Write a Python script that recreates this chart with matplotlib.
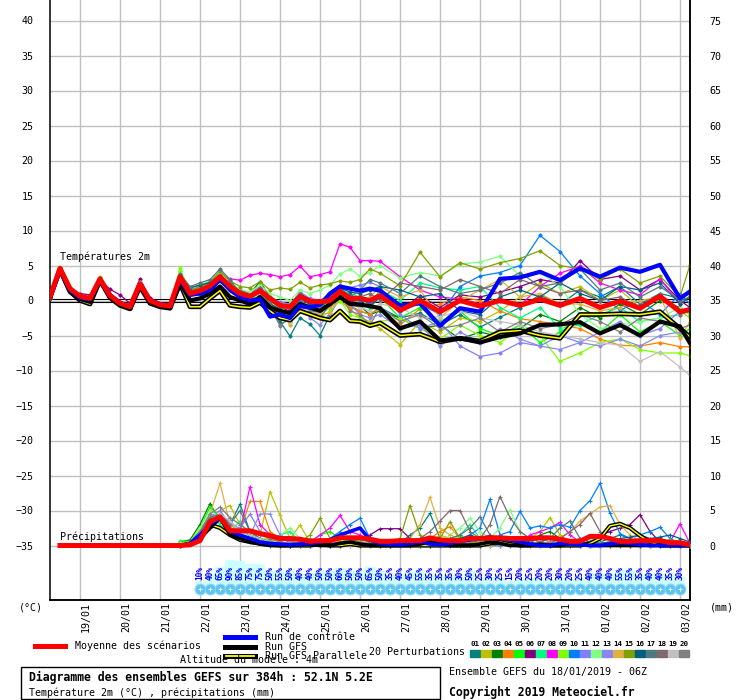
import matplotlib
matplotlib.use("Agg")
import matplotlib.pyplot as plt
from matplotlib.lines import Line2D
from matplotlib.patches import Rectangle
from matplotlib.transforms import ScaledTranslation

plt.rcParams["font.family"] = ["DejaVu Sans Mono", "DejaVu Sans"]

W, H = 740, 700

# forecast hours counted from 18/01/2019 06Z
temp_hours = list(range(0, 193, 6)) + list(range(198, 384, 12)) + [384]
precip_hours = list(range(78, 385, 6))
mean_precip_hours = list(range(6, 385, 6))
prob_hours = list(range(90, 379, 6))

day_hours = list(range(18, 384, 24))
day_labels = ["19/01", "20/01", "21/01", "22/01", "23/01", "24/01", "25/01", "26/01",
              "27/01", "28/01", "29/01", "30/01", "31/01", "01/02", "02/02", "03/02"]

member_names = ["%02d" % i for i in range(1, 21)]
member_colors = ["#008080", "#c0c000", "#008000", "#ff8000", "#00ff00", "#800080", "#00ff80",
                 "#ff00ff", "#80ff00", "#0080ff", "#8080ff", "#80ff80", "#8888ee", "#e0b040",
                 "#80a000", "#006080", "#507880", "#806870", "#c0c0c0", "#808080"]

# 2m temperature (deg C)
mean_temp = [0.5, 4.6, 1.7, 0.6, 0.3, 3.1, 0.7, -0.4, -0.9, 2.4, 0.0, -0.6, -0.8, 3.4, 1.0, 1.4, 2.1,
             3.4, 2.0, 1.0, 0.6, 1.4, 0.3, -0.7, -0.9, 0.6, -0.1, -0.2, 0.0, 1.3, 0.3, 0.3, 0.0, 0.7,
             -1.4, 0.0, -1.6, 0.0, -0.8, 0.0, -0.7, 0.2, -0.7, 0.3, -1.0, -0.1, -1.1, 0.6, -1.6, -1.3]
ctrl_temp = [0.6, 4.4, 1.5, 0.4, 0.2, 3.0, 0.8, -0.3, -0.9, 2.3, 0.1, -0.5, -0.7, 3.0, 0.8, 1.0, 1.5,
             3.0, 1.5, 0.5, 0.0, 0.2, -2.3, -2.0, -2.5, -0.8, -1.0, -0.6, 1.0, 2.0, 1.7, 1.4, 1.7, 1.4,
             -0.7, -0.4, -3.6, -1.1, -1.6, 3.1, 3.3, 4.1, 2.9, 4.6, 3.4, 4.7, 4.1, 5.1, 0.3, 1.3]
gfs_temp = [0.4, 4.3, 1.2, 0.2, -0.2, 2.8, 0.5, -0.6, -1.1, 2.2, -0.2, -0.8, -1.0, 2.6, 0.0, 0.3, 1.0,
            2.0, 0.5, 0.0, -0.5, 0.5, -1.0, -1.5, -1.8, -0.5, -1.0, -1.5, -0.5, 0.5, -0.5, -0.6, -0.8,
            -1.1, -4.0, -3.0, -5.7, -5.4, -6.0, -5.2, -4.7, -3.5, -3.4, -3.1, -4.7, -3.5, -5.0, -3.0,
            -3.7, -6.1]
para_temp = [0.4, 4.5, 1.3, 0.0, -0.5, 2.9, 0.4, -0.7, -1.2, 2.0, -0.4, -0.9, -1.1, 2.4, -0.9, -0.9,
             0.3, 1.4, -0.7, -0.9, -1.0, -0.3, -1.5, -2.5, -2.8, -1.5, -2.0, -2.5, -2.8, -1.5, -2.9,
             -3.0, -3.6, -3.2, -5.0, -4.8, -5.9, -5.4, -5.8, -4.5, -4.3, -5.0, -5.4, -2.0, -2.0, -1.9,
             -2.0, -1.6, -4.0, -5.2]
member_temps = [
    [0.6, 4.5, 1.6, 0.5, 0.1, 3.0, 0.6, -0.5, -1.0, 2.5, -0.1, -0.7, -0.9, 3.0, 1.2, 1.0, 1.8, 2.8,
     1.6, 0.4, -0.5, 0.8, -1.8, -3.0, -5.1, -2.5, -3.4, -5.0, -2.0, 0.5, -0.8, -1.5, -2.0, -1.0, -2.5,
     -1.8, -3.5, -2.0, -3.8, -2.4, -1.0, 0.8, -0.6, 1.5, 0.5, 2.0, -0.5, 1.0, 0.3, 1.0],
    [0.4, 4.7, 1.8, 0.7, 0.4, 3.3, 0.8, -0.3, -0.8, 2.5, 0.1, -0.5, -0.7, 3.3, 1.5, 1.9, 2.5, 3.8,
     2.6, 1.5, 0.9, 1.0, -0.5, -1.5, -3.5, -0.5, -1.5, -2.0, -1.0, 0.0, -1.2, -2.5, -3.0, -4.0, -6.3,
     -3.0, -4.5, -2.5, -3.0, -1.5, 0.5, 2.5, 1.0, 2.0, 0.0, 1.5, -1.0, 0.5, -1.5, -2.5],
    [0.5, 4.6, 1.7, 0.5, 0.2, 3.1, 0.7, -0.4, -0.9, 2.6, 0.0, -0.6, -0.8, 3.5, 1.8, 2.2, 2.6, 3.2,
     2.0, 1.5, 1.0, 2.7, 0.5, -0.5, -1.2, 1.0, 0.2, -0.8, 0.5, 1.6, 0.0, -0.8, -2.0, -1.5, -2.5,
     -4.0, -3.5, -5.5, -4.5, -5.2, -4.0, -2.0, -3.0, -1.0, -2.5, -0.5, -2.0, 0.0, -1.0, -2.0],
    [0.6, 4.4, 1.5, 0.6, 0.3, 3.0, 0.6, -0.5, -1.0, 2.3, 0.0, -0.6, -0.9, 3.2, 1.6, 2.0, 2.4, 3.0,
     1.8, 0.8, 0.6, 1.2, -1.8, -1.8, -1.8, -0.5, -1.0, -1.5, -0.5, 0.5, -1.0, -1.5, -2.0, -1.0, -3.5,
     -1.2, -0.5, 0.5, 0.0, -1.5, -2.6, -3.0, -3.5, -4.0, -5.5, -6.4, -6.5, -6.0, -6.6, -6.6],
    [0.7, 4.5, 1.6, 0.5, 0.3, 3.2, 0.7, -0.4, -0.9, 2.5, 0.1, -0.5, -0.7, 4.2, 1.2, 1.8, 2.8, 3.8,
     1.8, 0.6, 0.2, 1.6, -0.8, -1.5, -2.8, 0.2, -1.8, -1.2, -0.5, 2.0, 0.5, -0.5, -1.0, 0.5, -2.5,
     -1.0, -3.0, -1.5, -4.0, -5.0, -3.5, -6.0, -4.5, -3.0, -4.5, -2.0, -4.5, -3.0, -5.0, -4.0],
    [0.5, 4.5, 1.6, 1.0, 0.8, 3.0, 1.6, 0.8, -0.4, 3.1, 0.3, -0.5, -0.8, 3.3, 1.0, 1.5, 2.2, 3.3,
     2.0, 1.0, 0.5, 1.0, 0.0, -1.0, -1.5, 0.2, -0.5, -1.0, -0.5, 1.0, 0.0, -0.5, -0.8, 0.5, -1.5,
     0.7, -1.0, 0.8, 0.5, 1.2, 2.0, 3.0, 2.5, 5.7, 3.0, 3.5, 1.5, 3.0, 0.0, -1.0],
    [0.4, 4.3, 1.4, 0.4, 0.1, 2.9, 0.6, -0.5, -1.0, 2.3, -0.1, -0.7, -0.9, 3.6, 1.3, 1.6, 2.3, 3.6,
     2.2, 1.2, 0.4, 0.5, -1.2, -2.5, -3.0, -1.0, -2.2, -1.0, 0.0, 1.5, 1.0, 0.5, -0.5, 1.5, 0.0,
     2.5, 1.8, 1.5, 2.0, -1.0, -2.5, -1.0, -4.0, -3.5, -2.0, -1.0, -3.0, -2.5, -2.0, -1.5],
    [0.5, 4.7, 1.8, 0.6, 0.3, 3.1, 0.8, -0.3, -0.8, 2.5, 0.1, -0.5, -0.8, 3.5, 1.5, 2.0, 2.5, 3.7,
     3.1, 2.9, 3.6, 3.9, 3.7, 3.4, 3.7, 4.9, 3.4, 3.7, 4.1, 8.1, 7.6, 5.7, 5.7, 5.6, 3.4, 1.5, 0.5,
     0.2, -0.5, 0.0, -0.7, 2.0, 3.9, 4.9, 2.5, 1.5, 0.8, 3.1, -0.5, 0.6],
    [0.6, 4.6, 1.7, 0.5, 0.2, 3.0, 0.6, -0.5, -1.0, 2.4, -0.1, -0.6, -0.8, 4.6, 1.0, 1.2, 2.0, 3.0,
     1.5, 0.5, 0.0, 1.5, -0.5, -1.0, -2.0, 0.0, -1.0, -2.5, -1.5, 0.0, -2.0, -2.5, -3.5, -3.0, -2.5,
     -4.0, -5.5, -3.5, -5.0, -6.0, -4.0, -5.0, -8.7, -7.5, -6.0, -5.5, -7.0, -7.5, -7.5, -7.9],
    [0.4, 4.4, 1.5, 0.4, 0.1, 2.9, 0.6, -0.5, -1.0, 2.4, 0.0, -0.6, -0.8, 3.3, 1.0, 1.3, 2.0, 3.3,
     2.0, 1.2, 0.5, 1.0, -1.0, -2.0, -2.5, 0.0, -1.2, -0.5, 0.5, 1.5, 0.8, 0.0, -0.5, 0.5, -1.5,
     -0.5, -2.0, 2.0, 3.5, 4.0, 5.0, 9.3, 7.0, 3.5, 1.0, -1.4, 0.0, -2.0, 1.0, -0.5],
    [0.5, 4.6, 1.6, 0.5, 0.2, 3.0, 0.7, -0.4, -0.9, 2.4, 0.0, -0.6, -0.8, 3.4, 1.2, 1.5, 2.2, 3.5,
     2.2, 1.4, 1.0, 2.0, 0.5, -0.2, -0.5, 1.2, 0.3, 0.0, 0.8, 2.2, 1.8, 2.2, 2.6, 2.0, -2.0, -4.0,
     -3.0, -6.5, -8.0, -7.5, -6.0, -6.5, -5.0, -6.0, -4.5, -3.0, -5.0, -4.0, -1.5, -1.0],
    [0.6, 4.8, 1.8, 0.6, 0.3, 3.2, 0.8, -0.3, -0.8, 2.6, 0.1, -0.5, -0.7, 4.0, 1.6, 2.2, 2.8, 4.0,
     2.5, 1.6, 1.2, 2.2, 1.0, 0.5, 0.0, 1.5, 1.0, 1.5, 2.2, 3.8, 4.5, 3.5, 4.0, 5.0, 3.2, 4.0, 3.5,
     5.2, 5.5, 6.3, 3.5, 4.0, 2.0, -2.0, -4.0, -3.5, -3.0, -2.5, -1.0, -2.0],
    [0.4, 4.5, 1.6, 0.5, 0.2, 3.0, 0.6, -0.5, -1.0, 2.3, -0.1, -0.7, -0.9, 3.2, 0.8, 1.2, 1.8, 3.0,
     1.6, 0.6, 0.2, 1.2, -1.5, -2.5, -3.0, -0.5, -2.5, -3.5, -1.8, 0.5, -0.5, -2.0, -2.5, -2.0, -4.0,
     -3.5, -6.5, -4.5, -6.0, -4.0, -5.5, -6.5, -7.0, -6.0, -6.5, -5.5, -6.5, -5.0, -4.5, -5.5],
    [0.5, 4.4, 1.5, 0.3, 0.0, 2.8, 0.5, -0.6, -1.1, 2.2, -0.2, -0.8, -1.0, 3.0, 1.2, 1.6, 2.0, 3.0,
     1.5, 0.8, 0.3, 1.0, 0.0, -1.0, -3.5, -0.8, -1.5, -2.0, -1.8, 0.5, -0.5, -1.0, 0.5, 2.0, 0.5,
     1.5, -2.5, 0.0, 1.5, 3.0, 0.5, 1.0, -0.5, -0.5, -1.5, -1.0, 0.0, 0.5, -5.4, -3.0],
    [0.5, 4.6, 1.7, 0.6, 0.3, 3.1, 0.7, -0.4, -0.9, 2.5, 0.1, -0.5, -0.7, 3.4, 1.4, 1.9, 2.6, 4.2,
     2.8, 2.0, 1.8, 2.7, 1.5, 1.8, 1.6, 2.6, 1.8, 2.2, 2.4, 2.8, 2.6, 3.0, 4.5, 3.9, 2.1, 6.9, 3.4,
     5.4, 4.5, 5.4, 6.0, 7.1, 5.0, 4.5, 3.0, 4.5, 2.5, 3.5, 0.5, 5.1],
    [0.6, 4.5, 1.6, 0.5, 0.2, 3.0, 0.7, -0.4, -0.9, 2.4, 0.0, -0.6, -0.8, 3.6, 1.8, 2.2, 2.6, 3.5,
     2.2, 1.2, 0.8, 1.5, -0.5, -1.2, -2.2, 0.5, -0.5, -1.0, 0.2, 1.8, 1.2, 1.0, 1.5, 2.0, 1.5, 0.5,
     1.0, -1.5, -2.0, 0.5, 1.5, 0.5, 2.5, 1.0, 0.0, 2.0, 1.5, 2.5, -0.5, 0.5],
    [0.5, 4.6, 1.6, 0.5, 0.2, 3.1, 0.6, -0.5, -1.0, 2.4, 0.0, -0.7, -0.9, 3.8, 2.0, 2.5, 3.0, 4.5,
     3.0, 1.0, 0.0, 1.8, -0.5, -3.5, -2.5, 1.0, -1.0, -2.5, -0.5, 1.0, 0.5, 1.5, 3.0, 2.5, 1.0, 3.5,
     2.0, 1.0, 1.5, 2.5, 4.0, 2.0, 2.5, 4.5, 1.5, 2.5, 0.5, 2.0, 0.0, 0.5],
    [0.4, 4.4, 1.5, 0.4, 0.1, 2.9, 0.6, -0.5, -1.0, 2.3, -0.1, -0.7, -0.9, 3.2, 1.0, 1.4, 2.0, 3.6,
     2.4, 1.4, 0.8, 1.8, 0.2, -0.5, -1.0, 0.8, 0.0, -0.5, 0.5, 1.5, 0.5, 0.5, 1.0, 0.0, 2.5, 2.0,
     1.5, 3.0, 2.0, 1.0, 3.0, 2.0, 1.0, 1.5, 0.0, 0.5, -1.0, 1.0, -2.0, -1.5],
    [0.6, 4.7, 1.7, 0.6, 0.3, 3.1, 0.7, -0.4, -0.9, 2.5, 0.0, -0.6, -0.8, 3.3, 1.2, 1.5, 2.1, 3.3,
     1.8, 0.8, 0.4, 1.0, -1.0, -1.8, -3.0, -1.0, -2.0, -1.5, -0.5, 0.8, -0.5, -1.0, -1.5, -0.5, -1.0,
     -2.5, -2.3, -1.5, -2.5, -3.0, -3.5, -4.5, -5.0, -5.5, -6.0, -6.4, -8.7, -7.3, -9.5, -10.7],
    [0.5, 4.5, 1.6, 0.5, 0.2, 3.0, 0.6, -0.5, -1.0, 2.4, 0.0, -0.6, -0.8, 3.1, 0.8, 1.2, 1.6, 3.3,
     1.8, 0.8, 0.3, 1.2, -1.0, -3.6, -2.5, 0.5, -1.5, -1.0, -0.5, 0.8, -1.5, -2.0, -3.5, -1.0, -3.0,
     -2.0, -4.0, -3.5, -2.5, -4.5, -3.0, -4.0, -3.5, -2.0, -3.0, -4.5, -2.5, -3.0, -4.0, -3.5],
]

# precipitation (mm)
mean_precip = [0, 0, 0, 0, 0, 0, 0, 0, 0, 0, 0, 0,
               0.0, 0.1, 0.7, 3.4, 4.1, 2.1, 2.1, 2.1, 1.7, 1.4, 1.0, 1.0, 0.9, 0.6, 0.7, 0.7, 1.1,
               1.1, 1.1, 0.9, 0.6, 0.6, 0.7, 0.7, 0.7, 1.1, 0.8, 0.7, 0.7, 1.0, 1.0, 1.1, 1.1, 1.0,
               1.0, 1.0, 1.1, 1.1, 0.9, 0.6, 0.6, 1.3, 1.3, 1.0, 0.6, 0.6, 0.7, 0.7, 0.7, 0.4, 0.4,
               0.1]
ctrl_precip = [0, 0.3, 1.5, 3.0, 4.0, 2.0, 1.5, 1.0, 0.5, 0.3, 0.2, 0.1, 0.2, 0.3, 0.5, 0.8, 1.5,
               2.0, 2.5, 0.8, 0.3, 0.2, 0.1, 0.3, 0.5, 0.2, 0.1, 0.3, 0.6, 0.8, 1.0, 1.2, 1.0, 0.8,
               0.5, 0.2, 0.0, 0.0, 0.3, 0.2, 0.1, 0.0, 0.0, 0.2, 0.4, 0.3, 0.1, 0.0, 0.0, 0.0, 0.0,
               0.0]
gfs_precip = [0, 0.2, 1.0, 2.5, 4.0, 1.5, 1.0, 0.5, 0.2, 0.0, 0.0, 0.0, 0.1, 0.2, 0.0, 0.0, 0.3,
              0.5, 0.2, 0.0, 0.0, 0.0, 0.0, 0.0, 0.2, 0.5, 0.3, 0.0, 0.0, 0.0, 0.2, 0.5, 0.3, 0.0,
              0.0, 0.0, 0.2, 0.0, 0.0, 0.3, 0.2, 0.0, 0.0, 0.0, 0.0, 0.0, 0.0, 0.0, 0.0, 0.0, 0.0,
              0.0]
para_precip = [0, 0.2, 1.2, 3.0, 2.5, 1.5, 0.8, 0.5, 0.3, 0.1, 0.0, 0.0, 0.0, 0.0, 0.2, 0.0, 0.0,
               0.2, 0.0, 0.0, 0.0, 0.0, 0.0, 0.0, 0.0, 0.0, 0.0, 0.0, 0.0, 0.0, 0.0, 0.3, 0.5, 0.2,
               0.0, 0.0, 0.0, 0.0, 0.0, 0.0, 0.0, 0.3, 1.0, 2.8, 3.1, 2.5, 1.4, 0.5, 0.0, 0.0, 0.0,
               0.0]
member_precips = [
    [0, 0.3, 1.5, 3.5, 4.0, 3.0, 5.9, 2.0, 1.0, 0.5, 0.3, 0.0, 0.2, 0.5, 0.3, 0.0, 0.0, 0.5, 1.0,
     0.5, 0.0, 0.0, 0.3, 1.5, 2.5, 4.6, 1.0, 0.3, 0.0, 0.5, 0.3, 0.0, 0.0, 0.5, 1.0, 0.3, 0.0, 0.0,
     0.5, 0.2, 0.0, 0.0, 0.5, 1.0, 1.5, 1.0, 0.3, 0.5, 1.0, 0.5, 0.2, 0.0],
    [0, 0.5, 2.0, 4.0, 5.0, 5.7, 3.0, 2.0, 1.5, 7.7, 4.3, 1.0, 2.9, 0.5, 0.2, 0.0, 0.3, 0.5, 0.2,
     0.0, 0.0, 0.2, 0.5, 0.3, 0.0, 0.5, 1.5, 1.0, 0.3, 0.0, 0.2, 0.5, 1.0, 0.5, 0.3, 1.0, 2.0, 4.0,
     1.5, 0.5, 0.2, 0.0, 0.3, 0.5, 0.2, 0.0, 0.0, 0.3, 0.5, 0.2, 0.5, 0.3],
    [0.5, 0.8, 3.0, 6.0, 3.5, 2.0, 1.0, 1.2, 0.8, 0.5, 0.3, 0.2, 0.0, 0.3, 0.8, 0.5, 0.3, 1.0, 0.5,
     0.2, 0.0, 0.3, 0.5, 0.2, 0.0, 0.2, 0.5, 1.0, 0.5, 0.3, 0.8, 1.0, 0.5, 0.3, 0.2, 0.5, 1.5, 2.0,
     1.0, 0.5, 0.3, 0.0, 0.0, 0.2, 0.5, 0.3, 0.0, 0.0, 0.2, 0.5, 0.3, 0.0],
    [0, 0.3, 1.5, 3.0, 4.5, 3.0, 2.0, 6.3, 6.3, 2.0, 1.0, 0.5, 0.8, 1.0, 0.3, 0.0, 0.5, 0.3, 0.0,
     0.0, 0.2, 0.5, 0.3, 0.0, 0.5, 1.0, 2.0, 2.7, 1.0, 0.5, 1.0, 1.5, 0.5, 0.3, 1.0, 0.5, 0.2, 0.0,
     0.5, 0.3, 0.0, 0.0, 0.2, 0.5, 0.3, 0.0, 0.0, 0.0, 0.2, 0.0, 0.0, 0.0],
    [0.7, 0.5, 2.5, 5.5, 4.0, 2.5, 1.5, 1.0, 0.8, 1.0, 0.5, 0.3, 0.2, 0.5, 1.5, 2.0, 1.0, 0.5, 0.3,
     0.0, 0.0, 0.5, 1.0, 0.5, 0.3, 0.0, 0.5, 1.0, 1.5, 0.5, 0.3, 1.0, 0.5, 0.3, 0.5, 0.2, 0.0, 0.5,
     1.0, 0.5, 0.3, 0.0, 0.0, 0.3, 0.5, 0.2, 0.0, 0.0, 0.0, 0.3, 0.5, 0.3],
    [0, 0.2, 1.5, 3.0, 4.0, 2.5, 1.5, 1.0, 0.5, 0.3, 0.2, 0.0, 0.0, 0.3, 0.5, 0.2, 0.0, 0.5, 1.0,
     1.5, 2.4, 2.4, 2.4, 1.0, 0.5, 0.3, 0.0, 0.2, 0.5, 0.3, 0.0, 0.0, 0.3, 0.5, 0.2, 0.0, 0.5, 1.0,
     0.5, 0.3, 0.5, 1.0, 1.5, 2.0, 2.5, 3.0, 4.4, 2.0, 0.5, 0.3, 0.0, 0.0],
    [0.5, 0.3, 2.0, 4.5, 3.0, 2.0, 3.5, 1.0, 0.5, 0.8, 1.5, 2.0, 0.5, 0.3, 0.0, 0.5, 1.0, 0.5, 0.2,
     0.0, 0.3, 0.5, 0.2, 0.0, 0.0, 0.3, 0.8, 0.5, 1.5, 3.0, 1.0, 0.5, 0.3, 0.0, 0.2, 0.5, 0.3, 0.0,
     0.0, 0.2, 0.5, 0.3, 0.0, 0.0, 0.0, 0.2, 0.0, 0.0, 0.0, 0.3, 0.2, 0.0],
    [0, 0.3, 1.5, 3.0, 4.0, 3.5, 2.0, 8.4, 3.0, 1.5, 1.0, 0.5, 0.3, 0.5, 1.5, 2.5, 4.3, 2.0, 1.5,
     0.5, 0.3, 0.0, 0.2, 0.5, 0.3, 0.0, 0.0, 0.5, 1.0, 0.5, 0.3, 0.5, 1.0, 0.5, 0.3, 1.5, 2.0, 2.5,
     3.3, 1.5, 0.5, 0.3, 0.0, 0.2, 0.5, 0.3, 0.0, 0.0, 0.2, 0.5, 3.1, 0.3],
    [0.3, 0.5, 2.0, 4.0, 3.5, 2.5, 1.5, 1.0, 2.0, 1.5, 0.5, 0.3, 0.5, 1.0, 0.5, 0.3, 0.0, 0.5, 0.8,
     0.5, 0.2, 0.0, 0.3, 0.5, 1.0, 0.8, 0.5, 0.3, 0.0, 0.2, 0.5, 0.8, 1.2, 0.5, 0.3, 0.0, 0.0, 0.2,
     0.5, 0.3, 0.0, 0.0, 0.0, 0.3, 0.5, 0.3, 0.0, 0.0, 0.0, 0.0, 0.2, 0.0],
    [0, 0.2, 1.0, 2.5, 3.5, 2.0, 1.0, 0.5, 0.3, 0.0, 0.2, 0.5, 0.3, 0.0, 0.5, 1.0, 2.0, 3.0, 3.9,
     1.0, 0.3, 0.0, 0.2, 0.5, 0.3, 0.0, 0.5, 1.0, 0.5, 1.5, 2.5, 6.6, 1.5, 2.0, 4.9, 2.5, 2.8, 2.5,
     3.0, 2.6, 5.0, 6.4, 8.9, 4.6, 1.7, 1.0, 1.5, 2.0, 2.6, 1.0, 0.3, 0.0],
    [0, 0.3, 1.8, 4.0, 5.0, 3.0, 2.5, 4.5, 2.0, 1.0, 0.5, 0.3, 0.2, 0.0, 0.3, 0.5, 0.2, 0.0, 0.5,
     1.0, 0.5, 0.3, 0.0, 0.2, 0.5, 0.3, 0.0, 0.0, 0.3, 0.5, 1.0, 0.5, 0.2, 0.0, 0.3, 0.5, 1.0, 0.5,
     0.2, 0.0, 0.0, 0.3, 0.5, 0.2, 0.0, 0.0, 0.3, 0.5, 0.2, 0.0, 0.0, 0.0],
    [0.3, 0.5, 2.5, 5.0, 4.0, 2.0, 1.5, 1.0, 0.5, 0.3, 1.5, 2.5, 1.0, 0.5, 0.3, 0.0, 0.2, 0.5, 1.0,
     0.5, 0.2, 0.0, 0.3, 0.5, 1.0, 0.5, 0.3, 1.5, 2.5, 3.9, 2.0, 1.0, 2.5, 5.1, 2.0, 1.0, 0.5, 0.3,
     0.0, 0.2, 0.5, 1.0, 0.5, 0.2, 0.0, 0.0, 0.3, 0.5, 0.2, 0.0, 0.0, 0.0],
    [0, 0.3, 1.5, 3.5, 4.5, 3.0, 2.0, 1.5, 4.5, 4.5, 1.5, 0.5, 0.3, 0.0, 0.2, 0.5, 0.3, 0.0, 0.0,
     0.2, 0.5, 0.3, 0.0, 0.0, 0.2, 0.5, 0.3, 0.0, 0.5, 1.0, 0.5, 0.3, 0.0, 0.2, 0.3, 0.5, 0.3, 0.0,
     0.0, 0.2, 0.0, 0.0, 0.3, 0.5, 0.2, 0.0, 0.0, 0.0, 0.2, 0.0, 0.0, 0.0],
    [0, 0.5, 2.0, 4.5, 8.9, 3.0, 2.0, 1.5, 1.0, 0.8, 0.5, 0.3, 0.2, 0.5, 0.3, 0.0, 0.2, 0.5, 0.3,
     0.0, 0.0, 0.3, 0.5, 1.0, 3.0, 6.9, 2.5, 1.5, 1.0, 0.5, 0.3, 0.0, 0.5, 1.0, 0.5, 0.3, 0.0, 0.5,
     1.0, 2.0, 3.5, 4.5, 5.5, 5.7, 3.0, 1.5, 0.5, 0.3, 0.0, 0.2, 0.5, 0.2],
    [0, 0.3, 2.0, 4.0, 3.5, 2.5, 1.5, 1.0, 0.5, 0.3, 0.0, 0.2, 0.5, 1.5, 3.9, 1.0, 0.5, 0.3, 0.0,
     0.2, 0.5, 0.3, 1.0, 5.7, 1.5, 0.5, 1.0, 3.4, 1.0, 0.5, 0.3, 0.0, 0.2, 0.5, 1.0, 0.5, 0.3, 0.0,
     0.0, 0.2, 0.5, 0.3, 0.0, 0.0, 0.2, 0.0, 0.0, 0.3, 0.5, 0.8, 0.5, 0.2],
    [0, 0.2, 1.5, 3.0, 4.0, 2.5, 2.0, 1.5, 1.0, 0.5, 0.3, 0.0, 0.2, 0.5, 0.3, 0.0, 0.0, 0.5, 1.0,
     0.5, 0.3, 0.0, 0.2, 0.5, 1.0, 0.5, 0.3, 0.5, 1.0, 1.5, 1.0, 0.5, 0.3, 0.5, 1.0, 0.5, 0.3, 0.0,
     0.2, 0.5, 1.0, 0.5, 0.3, 0.5, 1.0, 1.2, 1.5, 1.0, 1.2, 1.5, 1.0, 0.5],
    [0, 0.5, 2.0, 4.0, 4.5, 3.0, 5.0, 2.0, 1.0, 0.5, 0.3, 0.0, 0.2, 0.5, 0.3, 0.0, 0.3, 0.5, 1.0,
     0.5, 0.2, 0.0, 0.3, 0.5, 0.3, 0.0, 0.5, 1.0, 1.5, 2.5, 4.1, 1.5, 0.5, 0.3, 0.0, 0.2, 0.5, 1.0,
     2.5, 3.5, 1.0, 0.5, 0.3, 0.0, 0.2, 0.5, 0.3, 0.0, 0.0, 0.2, 0.0, 0.0],
    [0, 0.3, 1.5, 3.5, 4.0, 2.5, 1.5, 1.0, 0.5, 0.3, 0.0, 0.2, 0.5, 0.3, 0.0, 0.2, 0.5, 0.3, 0.0,
     0.2, 0.5, 0.3, 0.0, 0.5, 1.0, 2.0, 3.5, 5.0, 5.0, 2.0, 1.0, 3.0, 7.0, 4.0, 2.0, 1.0, 0.5, 0.3,
     1.0, 2.0, 3.0, 4.6, 2.0, 1.0, 0.5, 0.3, 0.0, 0.2, 0.5, 0.3, 0.0, 0.0],
    [0, 0.2, 1.5, 3.0, 4.5, 3.5, 2.0, 1.5, 1.0, 0.5, 0.3, 0.2, 0.0, 0.3, 0.5, 0.3, 0.0, 0.0, 0.5,
     1.0, 0.5, 0.2, 0.0, 0.3, 0.5, 0.2, 0.0, 0.2, 0.5, 0.3, 0.0, 0.0, 0.5, 1.0, 0.5, 0.3, 0.0, 0.0,
     0.3, 0.5, 0.2, 0.0, 0.0, 0.0, 0.3, 0.5, 0.2, 0.0, 0.0, 0.0, 0.0, 0.0],
    [0, 0.3, 2.0, 4.5, 5.5, 4.0, 3.0, 2.0, 1.5, 1.0, 0.5, 0.3, 0.5, 1.0, 0.5, 0.3, 0.0, 0.3, 0.5,
     0.3, 0.0, 0.2, 0.5, 1.0, 0.5, 0.3, 0.5, 1.0, 0.5, 0.3, 0.0, 0.2, 0.5, 0.3, 0.0, 0.2, 0.5, 0.3,
     0.0, 0.0, 0.2, 0.5, 0.3, 0.0, 0.0, 0.0, 0.2, 0.3, 0.0, 0.0, 0.0, 0.0],
]

# probability of precipitation (%)
prob_pct = [10, 40, 65, 90, 85, 75, 75, 50, 55, 50, 40, 40, 50, 50, 60, 50, 50, 65, 50, 35, 40, 45,
            55, 35, 35, 35, 30, 50, 25, 30, 25, 15, 20, 25, 20, 20, 30, 20, 25, 40, 40, 40, 55, 55,
            35, 40, 40, 35, 30]


def fx(x):
    return x / W


def fy(y):
    return 1 - y / H


fig = plt.figure(figsize=(W / 100, H / 100), dpi=100)
ax = fig.add_axes([fx(50), fy(600), fx(640), 600 / H])
ax2 = ax.twinx()

# 0 degC sits at pixel row 300.5, 7 px per unit; precip 0 lines up with -35 degC
y_top, y_bot = 300.5 / 7, (300.5 - 600) / 7
ax.set_xlim(0, 384)
ax.set_ylim(y_bot, y_top)
ax2.set_ylim(y_bot + 35, y_top + 35)

ax.set_axisbelow(True)
ax.set_yticks(range(-35, 41, 5))
ax.set_xticks(day_hours)
ax.set_xticklabels(day_labels, rotation=90, fontsize=7.2, va="top")
ax.grid(True, color="#c0c0c0", lw=1.0)
ax.tick_params(axis="y", length=0, pad=12, labelsize=7.2)
ax.tick_params(axis="x", length=0, pad=1.5)
for lab in ax.get_xticklabels():
    lab.set_transform(lab.get_transform() + ScaledTranslation(6 / 100, 0, fig.dpi_scale_trans))

ax2.set_yticks(range(0, 76, 5))
ax2.tick_params(axis="y", length=0, pad=14, labelsize=7.2)
for a in (ax, ax2):
    a.spines["top"].set_visible(False)
    for s in ("left", "right", "bottom"):
        a.spines[s].set_linewidth(1.1)
ax2.spines["left"].set_visible(False)

# double 0 degC line
ax.axhline(0.21, color="k", lw=0.8, zorder=2)
ax.axhline(-0.21, color="k", lw=0.8, zorder=2)

# temperatures
for color, temps in zip(member_colors, member_temps):
    ax.plot(temp_hours, temps, color=color, lw=0.9, marker="D", ms=1.6, zorder=3)
ax.plot(temp_hours, para_temp, color="k", lw=3.4, zorder=4)
ax.plot(temp_hours, para_temp, color="#ffff00", lw=1.1, zorder=4)
ax.plot(temp_hours, gfs_temp, color="k", lw=3.0, zorder=4)
ax.plot(temp_hours, ctrl_temp, color="#0000ff", lw=3.0, zorder=5)
ax.plot(temp_hours, mean_temp, color="#ff0000", lw=3.6, zorder=6)

# precipitation
for color, pr in zip(member_colors, member_precips):
    ax2.plot(precip_hours, pr, color=color, lw=0.9, marker="+", ms=3, mew=0.8, zorder=3)
ax2.plot(precip_hours, para_precip, color="k", lw=3.0, zorder=4)
ax2.plot(precip_hours, para_precip, color="#ffff00", lw=1.0, zorder=4)
ax2.plot(precip_hours, gfs_precip, color="k", lw=2.6, zorder=4)
ax2.plot(precip_hours, ctrl_precip, color="#0000ff", lw=2.6, zorder=5)
ax2.plot(mean_precip_hours, mean_precip, color="#ff0000", lw=3.6, zorder=6)

# precipitation probability strip
xt = ax.get_xaxis_transform()
ax.bar(prob_hours, [p * 0.28 / 600 for p in prob_pct], width=6, bottom=15 / 600,
       color="#ccffff", transform=xt, zorder=1)
for h, p in zip(prob_hours, prob_pct):
    ax.text(h, (600 - 573) / 600, "%d%%" % p, transform=xt, rotation=90, color="#0000ff",
            fontsize=5.6, fontweight="bold", ha="center", va="center", zorder=7)
ax.scatter(prob_hours, [11 / 600] * len(prob_hours), transform=xt, s=60, marker="o",
           color="#5cc4ee", edgecolors="#8ad6f6", linewidths=0.8, zorder=7, clip_on=False)
ax.scatter(prob_hours, [11 / 600] * len(prob_hours), transform=xt, s=6, marker="+",
           color="white", linewidths=0.6, zorder=8, clip_on=False)

# labels inside the plot
fig.text(fx(60), fy(257), "Températures 2m", fontsize=7.2, va="center")
fig.text(fx(60), fy(537), "Précipitations", fontsize=7.2, va="center")
fig.text(fx(31), fy(607), "(°C)", fontsize=7.2, ha="center", va="center")
fig.text(fx(722), fy(607), "(mm)", fontsize=7.2, ha="center", va="center")

# legend
def legend_line(x0, x1, y, color, lw):
    fig.add_artist(Line2D([fx(x0), fx(x1)], [fy(y), fy(y)], color=color, lw=lw,
                          transform=fig.transFigure))

legend_line(35, 65, 646, "#ff0000", 3.6)
fig.text(fx(75), fy(646), "Moyenne des scénarios", fontsize=7.2, va="center")
fig.text(fx(249), fy(660), "Altitude du modèle : 4m", fontsize=7.2, ha="center", va="center")
legend_line(225, 255, 637, "#0000ff", 3.6)
legend_line(225, 255, 647, "k", 3.6)
legend_line(225, 255, 656, "k", 3.6)
legend_line(226, 254, 656, "#ffff00", 1.3)
fig.text(fx(265), fy(637), "Run de contrôle", fontsize=7.2, va="center")
fig.text(fx(265), fy(647), "Run GFS", fontsize=7.2, va="center")
fig.text(fx(265), fy(656), "Run GFS Parallele", fontsize=7.2, va="center")

fig.text(fx(465), fy(652), "20 Perturbations", fontsize=7.2, ha="right", va="center")
for i, (name, color) in enumerate(zip(member_names, member_colors)):
    x0 = 470 + 11 * i
    fig.add_artist(Rectangle((fx(x0), fy(656.5)), fx(10), 7 / H, color=color,
                             transform=fig.transFigure))
    fig.text(fx(x0 + 5), fy(644), name, fontsize=5.4, fontweight="bold", ha="center",
             va="center")

fig.add_artist(Rectangle((fx(21), fy(699)), fx(419), 32 / H, fill=False, edgecolor="k",
                         lw=1.0, transform=fig.transFigure))
fig.text(fx(29), fy(677), "Diagramme des ensembles GEFS sur 384h : 52.1N 5.2E", fontsize=8.3,
         fontweight="bold", va="center")
fig.text(fx(29), fy(693), "Température 2m (°C) , précipitations (mm)", fontsize=7.2,
         va="center")
fig.text(fx(449), fy(672), "Ensemble GEFS du 18/01/2019 - 06Z", fontsize=7.2, va="center")
fig.text(fx(449), fy(692), "Copyright 2019 Meteociel.fr", fontsize=8.3, fontweight="bold",
         va="center")

fig.savefig("out.png", dpi=100)
